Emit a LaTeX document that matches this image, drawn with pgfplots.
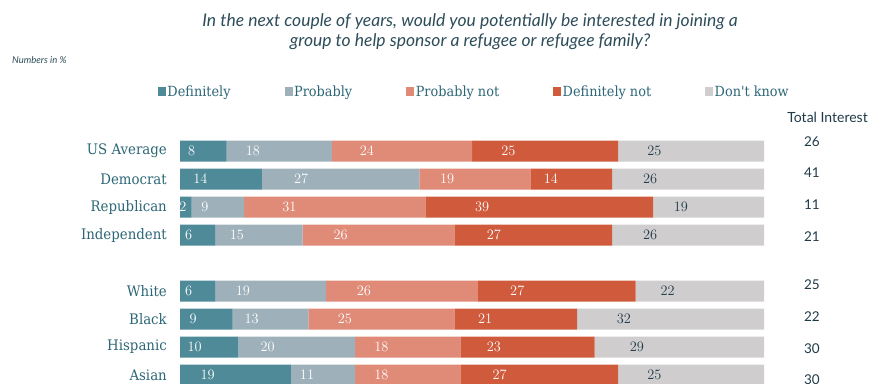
\documentclass[border=0pt]{standalone}
\usepackage{fontspec}
\setmainfont{DejaVu Serif}
\newfontfamily\labfont[FakeStretch=0.92]{DejaVu Serif}
\newfontfamily\sansfont{Lato}
\usepackage{pgfplots}
\pgfplotsset{compat=1.18}
\usepackage{pgfplotstable}

\definecolor{cDef}{HTML}{4E8A98}
\definecolor{cProb}{HTML}{9EB0BA}
\definecolor{cProbNot}{HTML}{E08B78}
\definecolor{cDefNot}{HTML}{D05A3C}
\definecolor{cDK}{HTML}{CFCDCD}
\definecolor{labcol}{HTML}{2C6676}
\definecolor{titlecol}{HTML}{2E4D5A}
\definecolor{darktxt}{HTML}{1F3A48}

\pgfplotstableread{
y def prob probnot defnot dk
0 8 18 24 25 25
1 14 27 19 14 26
2 2 9 31 39 19
3 6 15 26 27 26
5 6 19 26 27 22
6 9 13 25 21 32
7 10 20 18 23 29
8 19 11 18 27 25
}\datatable

\pgfplotstableread{
y x t
-0.321 108.2 26
0.786 108.2 41
1.929 108.2 11
3.071 108.2 21
4.786 108.2 25
5.929 108.2 22
7.071 108.2 30
8.179 108.2 30
}\tottable

\begin{document}
\begin{tikzpicture}
\useasboundingbox (0,0) rectangle (870bp,384bp);
\clip (0,0) rectangle (870bp,384bp);
\begin{axis}[
  at={(180bp,0bp)}, anchor=south west,
  scale only axis, width=584bp, height=384bp,
  xmin=0, xmax=100, ymin=-5.392857, ymax=8.321429,
  y dir=reverse, clip=false,
  xbar stacked, bar width=21bp,
  axis line style={draw=none},
  xtick=\empty,
  ytick={0,1,2,3,5,6,7,8},
  yticklabels={US Average,Democrat,Republican,Independent,White,Black,Hispanic,Asian},
  major tick length=0pt,
  yticklabel style={anchor=east, inner sep=0pt, xshift=-13bp, text=labcol, font=\labfont\fontsize{14.5bp}{16bp}\selectfont},
  point meta=explicit,
  nodes near coords,
  every node near coord/.append style={anchor=center, xshift=-1.46bp*\segw, font=\labfont\fontsize{13.5bp}{15bp}\selectfont, text=white},
  legend style={at={(axis cs:-3.77,-2.125)}, anchor=west, draw=none, fill=none, inner sep=0pt, outer sep=0pt,
    font=\labfont\fontsize{14bp}{16bp}\selectfont, text=labcol,
    nodes={inner sep=1.5bp},
    /tikz/every even column/.append style={column sep=52.5bp}},
  legend columns=5,
  legend cell align=left,
  legend image code/.code={\fill[#1] (0bp,-4.5bp) rectangle (8bp,4.5bp);},
]
\addplot[fill=cDef, draw=none, visualization depends on={\thisrow{def} \as \segw}] table[x=def, y=y, meta=def]{\datatable};
\addplot[fill=cProb, draw=none, visualization depends on={\thisrow{prob} \as \segw}] table[x=prob, y=y, meta=prob]{\datatable};
\addplot[fill=cProbNot, draw=none, visualization depends on={\thisrow{probnot} \as \segw}] table[x=probnot, y=y, meta=probnot]{\datatable};
\addplot[fill=cDefNot, draw=none, visualization depends on={\thisrow{defnot} \as \segw}] table[x=defnot, y=y, meta=defnot]{\datatable};
\addplot[fill=cDK, draw=none, visualization depends on={\thisrow{dk} \as \segw}, every node near coord/.append style={text=darktxt}] table[x=dk, y=y, meta=dk]{\datatable};
\legend{Definitely,Probably,Probably not,Definitely not,Don't know}

\node[anchor=center, text=titlecol, font=\sansfont\itshape\fontsize{17.5bp}{20bp}\selectfont] at (axis cs:49.66,-4.607) {In the next couple of years, would you potentially be interested in joining a};
\node[anchor=center, text=titlecol, font=\sansfont\itshape\fontsize{17.5bp}{20bp}\selectfont] at (axis cs:49.66,-3.893) {group to help sponsor a refugee or refugee family?};
\node[anchor=west, inner sep=0pt, text=titlecol, font=\sansfont\itshape\fontsize{9.5bp}{11bp}\selectfont] at (axis cs:-28.77,-3.25) {Numbers in \%};
\node[anchor=east, inner sep=0pt, text=darktxt, font=\sansfont\fontsize{14bp}{16bp}\selectfont] at (axis cs:117.8,-1.214) {Total Interest};
\end{axis}
\begin{axis}[
  at={(180bp,0bp)}, anchor=south west,
  scale only axis, width=584bp, height=384bp,
  xmin=0, xmax=100, ymin=-5.392857, ymax=8.321429,
  y dir=reverse, clip=false, hide axis,
]
\addplot[draw=none, nodes near coords, point meta=explicit symbolic,
  every node near coord/.style={anchor=center, text=darktxt, font=\sansfont\fontsize{13.5bp}{15bp}\selectfont}]
  table[x=x, y=y, meta=t]{\tottable};
\end{axis}
\end{tikzpicture}
\end{document}
